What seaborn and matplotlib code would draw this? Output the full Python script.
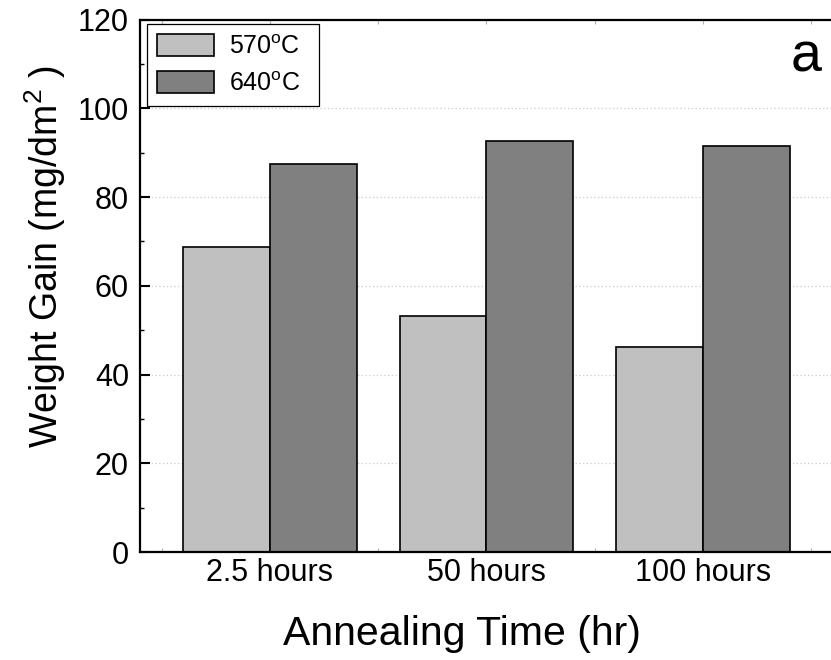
import pandas as pd
import matplotlib.pyplot as plt
import seaborn as sns

# values
times = ['2.5 hours', '50 hours', '100 hours']
temps = ['570$^\\mathrm{o}$C  ', '640$^\\mathrm{o}$C  ']
gain_570 = [68.7, 53.2, 46.2]
gain_640 = [87.5, 92.6, 91.5]
colors = ['#c0c0c0', '#808080']

df = pd.DataFrame({
    'time': times * 2,
    'temp': [temps[0]] * 3 + [temps[1]] * 3,
    'gain': gain_570 + gain_640,
})

sns.set_style('ticks', {'text.color': 'black', 'axes.labelcolor': 'black',
                        'xtick.color': 'black', 'ytick.color': 'black',
                        'axes.edgecolor': 'black'})
plt.rcParams['font.family'] = ['Liberation Sans', 'DejaVu Sans']
plt.rcParams['mathtext.fontset'] = 'custom'
plt.rcParams['mathtext.rm'] = 'Liberation Sans'
plt.rcParams['mathtext.it'] = 'Liberation Sans'

fig = plt.figure(figsize=(8.31, 6.6), dpi=100)
ax = fig.add_axes([0.1685, 0.1636, 0.8337, 0.8068])

sns.barplot(data=df, x='time', y='gain', hue='temp', palette=colors,
            saturation=1, edgecolor='black', linewidth=1.2, ax=ax)

ax.set_xlim(-0.6, 2.6)
ax.set_ylim(0, 120)
ax.set_yticks(range(0, 121, 20))
ax.set_yticks(range(10, 120, 20), minor=True)
ax.set_xticks([-0.5, 0.5, 1.5, 2.5], minor=True)

ax.grid(axis='y', which='major', color='#cccccc', linestyle=(0, (1, 2)), linewidth=0.9)
ax.set_axisbelow(True)

for side in ['left', 'bottom', 'top']:
    ax.spines[side].set_linewidth(1.6)
    ax.spines[side].set_color('black')
ax.spines['right'].set_visible(False)

ax.tick_params(axis='y', which='major', direction='in', length=7, width=1.5,
               labelsize=22, pad=8)
ax.tick_params(axis='y', which='minor', direction='in', length=3, width=1)
ax.tick_params(axis='x', which='both', direction='in', length=3, width=0.8,
               color='#b0b0b0', labelcolor='black', top=True, labelsize=22, pad=4)

ax.set_xlabel('Annealing Time (hr)', fontsize=29.5)
ax.set_ylabel('Weight Gain (mg/dm$^{2}$ )', fontsize=27)
ax.xaxis.set_label_coords(0.465, -0.119)
ax.yaxis.set_label_coords(-0.104, 0.554)

leg = ax.legend(loc='upper left', bbox_to_anchor=(0.010, 0.991), borderaxespad=0,
                fontsize=18, frameon=True, fancybox=False, edgecolor='black',
                framealpha=1, handlelength=2.3, handleheight=0.95, handletextpad=0.6,
                labelspacing=0.5, borderpad=0.4)
leg.get_frame().set_linewidth(0.9)

ax.text(0.961, 0.928, 'a', transform=ax.transAxes, fontsize=40,
        ha='center', va='center')

fig.savefig('out.png', dpi=100)
